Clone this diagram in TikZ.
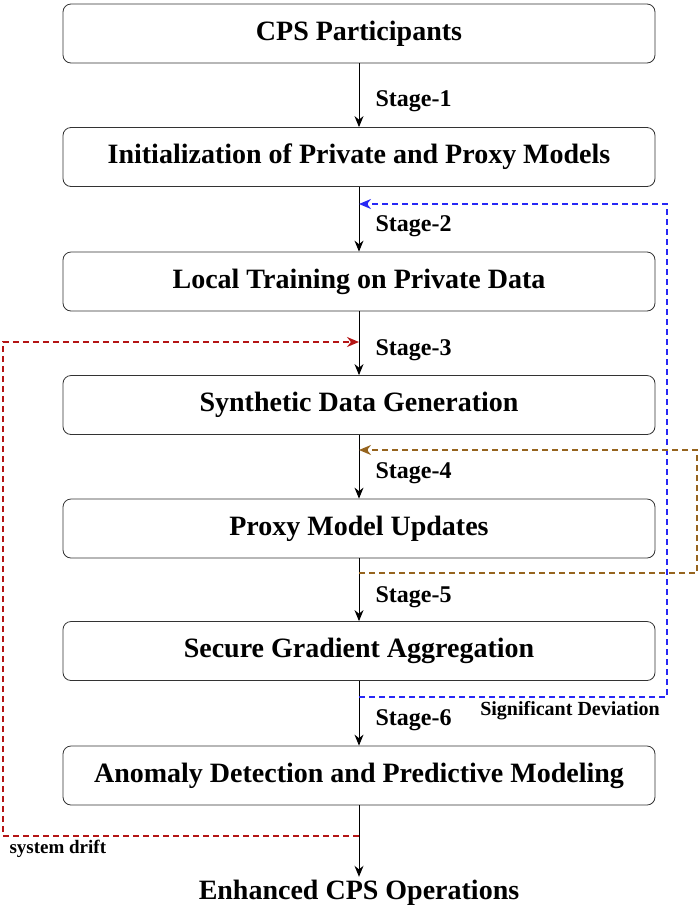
\documentclass[tikz,border=0pt]{standalone}
\usepackage{fontspec}
\setmainfont{Liberation Serif}
\usetikzlibrary{arrows.meta}
\begin{document}
\begin{tikzpicture}[x=1pt,y=-1pt,
 box/.style={draw=black!80,line width=0.8pt,rounded corners=8pt,minimum width=592pt,minimum height=59pt,font=\fontsize{28}{32}\selectfont\bfseries},
 flow/.style={line width=1pt,-{Stealth[length=11pt,width=9pt]}},
 stage/.style={anchor=west,font=\fontsize{24}{28}\selectfont\bfseries},
 loop/.style={dashed,dash pattern=on 6pt off 4pt,line width=1.5pt,-{Stealth[length=12pt,width=10pt]}}]
\useasboundingbox (0,0) rectangle (700,914);
\node[box] (b1) at (359,33.5) {CPS Participants};
\node[box] (b2) at (359,157) {Initialization of Private and Proxy Models};
\node[box] (b3) at (359,281.5) {Local Training on Private Data};
\node[box] (b4) at (359,405) {Synthetic Data Generation};
\node[box] (b5) at (359,528.5) {Proxy Model Updates};
\node[box] (b6) at (359,651) {Secure Gradient Aggregation};
\node[box] (b7) at (359,775.5) {Anomaly Detection and Predictive Modeling};
\node[font=\fontsize{28}{32}\selectfont\bfseries] (b8) at (359,893) {Enhanced CPS Operations};
\draw[flow] (b1) -- (b2);
\draw[flow] (b2) -- (b3);
\draw[flow] (b3) -- (b4);
\draw[flow] (b4) -- (b5);
\draw[flow] (b5) -- (b6);
\draw[flow] (b6) -- (b7);
\draw[flow] (b7) -- (b8.north);
\node[stage] at (372,101) {Stage-1};
\node[stage] at (372,226) {Stage-2};
\node[stage] at (372,350) {Stage-3};
\node[stage] at (372,473) {Stage-4};
\node[stage] at (372,597) {Stage-5};
\node[stage] at (372,720) {Stage-6};
\coordinate (bs) at (359,697); \coordinate (be) at (359,204);
\coordinate (os) at (359,573); \coordinate (oe) at (359,450);
\coordinate (rs) at (359,836); \coordinate (re) at (359,342);
\draw[loop,draw={rgb,255:red,40;green,40;blue,245}] (bs) -- (667,697) -- (667,204) -- (be);
\draw[loop,draw={rgb,255:red,150;green,100;blue,30}] (os) -- (697,573) -- (697,450) -- (oe);
\draw[loop,draw={rgb,255:red,180;green,20;blue,20}] (rs) -- (3,836) -- (3,342) -- (re);
\node[font=\fontsize{20}{24}\selectfont\bfseries] at (570,711) {Significant Deviation};
\node[font=\fontsize{19}{22}\selectfont\bfseries,anchor=west] at (6,849) {system drift};
\end{tikzpicture}
\end{document}
